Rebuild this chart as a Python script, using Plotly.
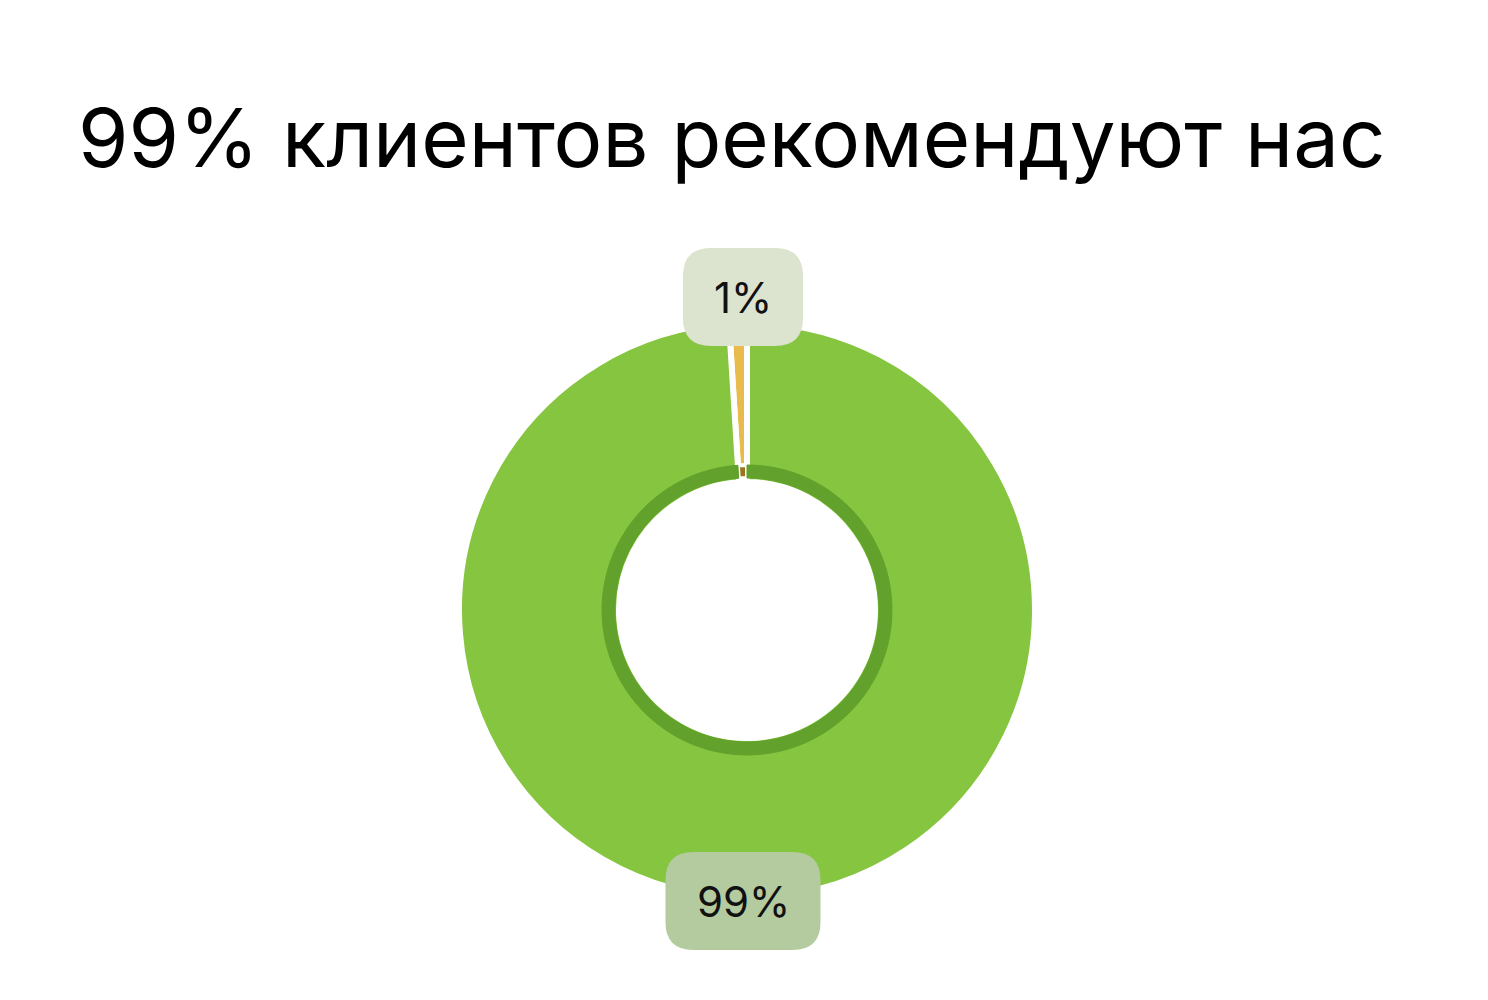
import math
import plotly.graph_objects as go

# ---- data ----
labels = ["Не рекомендуют", "Рекомендуют"]
values = [1, 99]
slice_colors = ["#e9bb4c", "#86c540"]
rim_colors = ["#9c7420", "#62a22c"]
title_text = "99% клиентов рекомендуют нас"
label_texts = [f"{v}%" for v in values]
box_colors = ["#dce3cf", "#b4cb9f"]

# ---- layout geometry (pixels, figure coords; page body adds 8px) ----
W, H = 1488, 1000
cx, cy = 739, 398          # pie centre, measured from bottom
gap_w = 6
R_out = 285 + gap_w / 2
R_rim = 145
R_hole = 132

total = sum(values)
# first slice ends at 12 o'clock, lying just left of it
rot = -360.0 * values[0] / total

def dom(r):
    return dict(x=[(cx - r) / W, (cx + r) / W], y=[(cy - r) / H, (cy + r) / H])

fig = go.Figure()
fig.add_trace(go.Pie(
    labels=labels, values=values, sort=False, direction="clockwise", rotation=rot,
    hole=(R_hole - 4) / R_out, domain=dom(R_out),
    marker=dict(colors=slice_colors, line=dict(color="white", width=gap_w)),
    textinfo="none", hoverinfo="label+percent", showlegend=False,
))
fig.add_trace(go.Pie(
    labels=labels, values=values, sort=False, direction="clockwise", rotation=rot,
    hole=R_hole / R_rim, domain=dom(R_rim),
    marker=dict(colors=rim_colors, line=dict(color=["white", rim_colors[1]], width=[4, 1])),
    textinfo="none", hoverinfo="skip", showlegend=False,
))

# label boxes placed at the top / bottom edge according to slice mid-angle
shapes, annotations = [], []
start = rot / 360.0
box_sizes = [(120, 98), (155, 98)]
offsets = [28, 6]
for i, v in enumerate(values):
    frac = v / total
    mid = start + frac / 2
    start += frac
    ang = 2 * math.pi * mid
    up = math.cos(ang)
    ly = cy + (285 + offsets[i]) * (1 if up > 0 else -1)
    lx = cx - 4
    bw, bh = box_sizes[i]
    r = 28
    x0, x1, y0, y1 = -bw / 2, bw / 2, -bh / 2, bh / 2
    path = (f"M {x0+r},{y0} L {x1-r},{y0} Q {x1},{y0} {x1},{y0+r} L {x1},{y1-r} "
            f"Q {x1},{y1} {x1-r},{y1} L {x0+r},{y1} Q {x0},{y1} {x0},{y1-r} "
            f"L {x0},{y0+r} Q {x0},{y0} {x0+r},{y0} Z")
    shapes.append(dict(type="path", xref="paper", yref="paper",
                       xsizemode="pixel", ysizemode="pixel",
                       xanchor=lx / W, yanchor=ly / H, path=path,
                       fillcolor=box_colors[i], line=dict(width=0), layer="above"))
    annotations.append(dict(x=lx / W, y=ly / H, xref="paper", yref="paper",
                            text=label_texts[i], showarrow=False,
                            font=dict(family="Inter", size=42, color="#111111"),
                            xanchor="center", yanchor="middle"))

annotations.append(dict(x=68 / W, y=(1000 - 129) / H, xref="paper", yref="paper",
                        text=title_text, showarrow=False, xanchor="left", yanchor="middle",
                        font=dict(family="Inter", size=81.5, color="#000000")))

fig.update_layout(
    width=W, height=H, margin=dict(l=0, r=0, t=0, b=0),
    paper_bgcolor="white", plot_bgcolor="white",
    shapes=shapes, annotations=annotations,
)
fig.write_html("out.html")
